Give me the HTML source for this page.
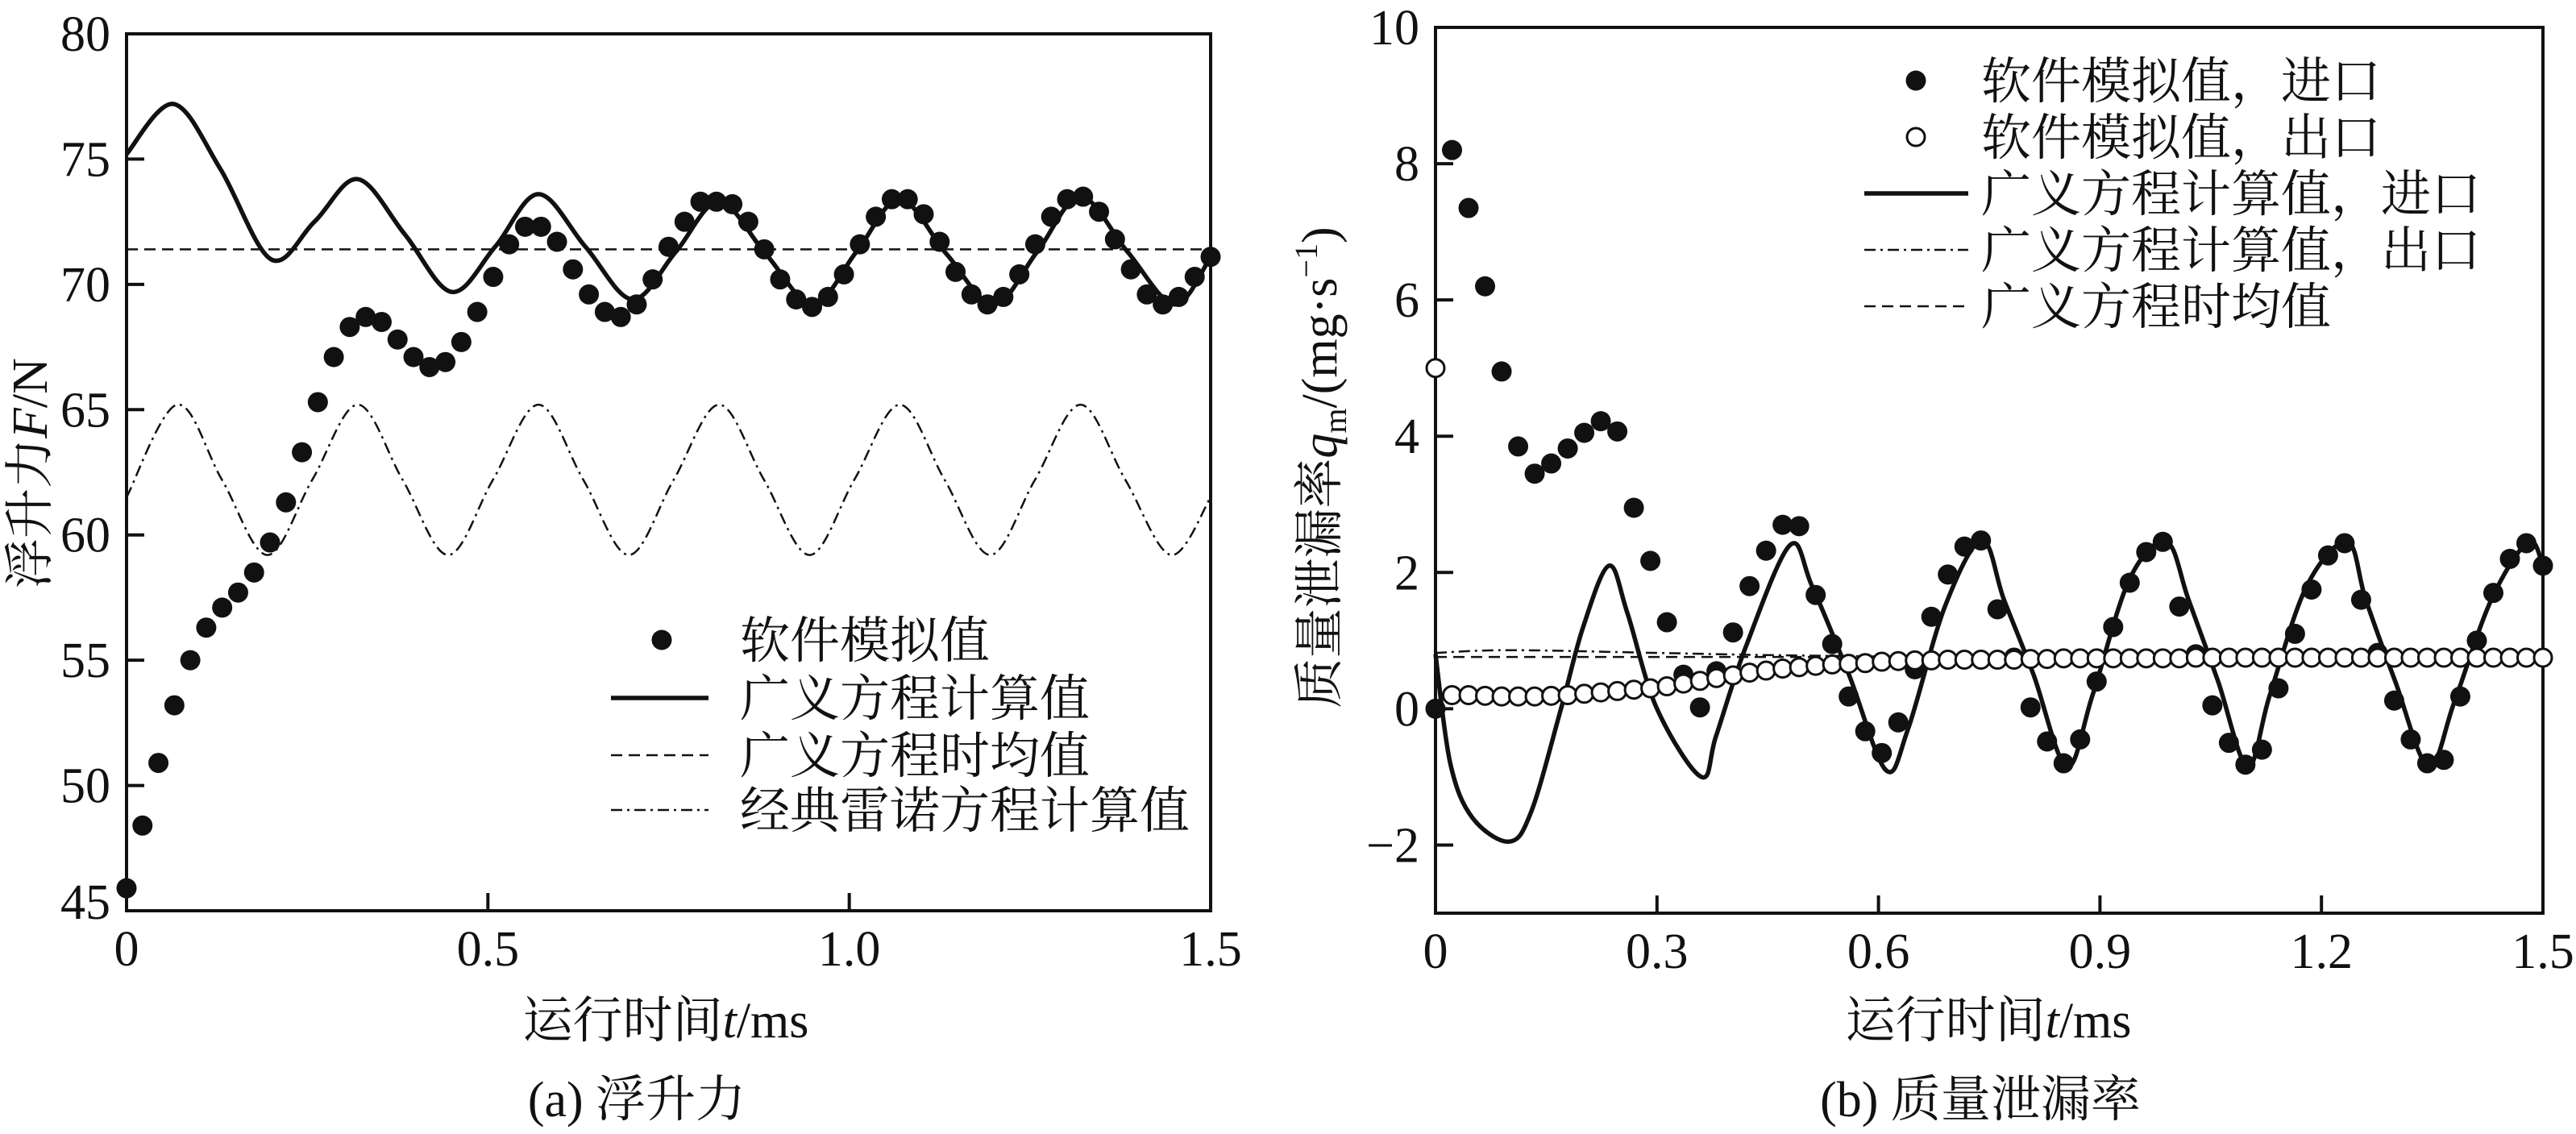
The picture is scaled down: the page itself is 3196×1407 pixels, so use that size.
<!DOCTYPE html>
<html><head><meta charset="utf-8"><style>
html,body{margin:0;padding:0;background:#fff}
svg{display:block}
text{font-family:"Liberation Serif","Noto Serif CJK SC",serif;fill:#111}
.cjk{font-family:"Liberation Serif","Noto Serif CJK SC",serif}
</style></head><body>
<svg id="fig" width="3196" height="1407" viewBox="0 0 3196 1407" xmlns="http://www.w3.org/2000/svg">
<rect width="3196" height="1407" fill="#fff"/>
<g id="pa"></g>
<g id="pb"></g>
<text transform="translate(58,587) rotate(-90)" text-anchor="middle" font-size="62">浮升力<tspan font-style="italic">F</tspan>/N</text>
<text x="826" y="1287" text-anchor="middle" font-size="62">运行时间<tspan font-style="italic">t</tspan>/ms</text>
<text x="790" y="1385" text-anchor="middle" font-size="62">(a) 浮升力</text>
<text transform="translate(1658,580) rotate(-90)" text-anchor="middle" font-size="62">质量泄漏率<tspan font-style="italic">q</tspan><tspan font-size="40" dy="12">m</tspan><tspan dy="-12">/(mg·s</tspan><tspan font-size="40" dy="-24">−1</tspan><tspan dy="24">)</tspan></text>
<text x="2467" y="1287" text-anchor="middle" font-size="62">运行时间<tspan font-style="italic">t</tspan>/ms</text>
<text x="2457" y="1385" text-anchor="middle" font-size="62">(b) 质量泄漏率</text>
</svg>
<script>
// ---------- chart (a) data ----------
const aSimValues=[45.9,48.4,50.9,53.2,55.0,56.3,57.1,57.7,58.5,59.7,61.3,63.3,65.3,67.1,68.3,68.7,68.5,67.8,67.1,66.7,66.9,67.7,68.9,70.3,71.6,72.3,72.3,71.7,70.6,69.6,68.9,68.7,69.2,70.2,71.5,72.5,73.3,73.3,73.2,72.5,71.4,70.2,69.4,69.1,69.5,70.4,71.6,72.7,73.4,73.4,72.8,71.7,70.5,69.6,69.2,69.5,70.4,71.6,72.7,73.4,73.5,72.9,71.8,70.6,69.6,69.2,69.5,70.3,71.1];
const aGenT=[0,0.065,0.13,0.2,0.26,0.32,0.385,0.45,0.51,0.57,0.635,0.7,0.76,0.82,0.885,0.95,1.01,1.07,1.135,1.2,1.26,1.32,1.385,1.45,1.5];
const aGenV=[75.2,77.2,74.6,71.0,72.5,74.2,72.0,69.7,71.5,73.6,71.5,69.4,71.3,73.3,71.2,69.2,71.3,73.4,71.2,69.2,71.3,73.5,71.3,69.2,71.1];
const aMean=71.4;
const aReyT=[0,0.07,0.132,0.195,0.257,0.32,0.382,0.445,0.507,0.57,0.632,0.695,0.757,0.82,0.882,0.945,1.007,1.07,1.132,1.195,1.257,1.32,1.382,1.445,1.5];
const aReyV=[61.5,65.2,62.2,59.2,62.2,65.2,62.2,59.2,62.2,65.2,62.2,59.2,62.2,65.2,62.2,59.2,62.2,65.2,62.2,59.2,62.2,65.2,62.2,59.2,61.5];
const aXTicks=[0,0.5,1.0,1.5], aXTickLabels=["0","0.5","1.0","1.5"];
const aYTicks=[45,50,55,60,65,70,75,80];
// ---------- chart (b) data ----------
const bInV=[0,8.2,7.35,6.2,4.95,3.85,3.45,3.6,3.82,4.05,4.22,4.07,2.95,2.17,1.27,0.5,0.02,0.55,1.12,1.8,2.32,2.7,2.68,1.67,0.95,0.18,-0.33,-0.65,-0.2,0.58,1.35,1.97,2.38,2.47,1.46,0.75,0.02,-0.48,-0.8,-0.45,0.4,1.2,1.85,2.3,2.45,1.5,0.8,0.05,-0.5,-0.82,-0.6,0.3,1.1,1.75,2.25,2.43,1.6,0.82,0.12,-0.45,-0.8,-0.75,0.18,1.0,1.7,2.2,2.43,2.1];
const bOutV=[5.0,0.2,0.2,0.19,0.18,0.18,0.18,0.19,0.2,0.22,0.24,0.26,0.28,0.3,0.33,0.37,0.41,0.45,0.49,0.53,0.56,0.59,0.61,0.63,0.65,0.66,0.67,0.69,0.7,0.71,0.71,0.72,0.72,0.72,0.72,0.72,0.73,0.73,0.74,0.74,0.74,0.74,0.74,0.74,0.74,0.74,0.75,0.75,0.75,0.75,0.75,0.75,0.75,0.75,0.75,0.75,0.75,0.75,0.75,0.75,0.75,0.75,0.75,0.75,0.75,0.75,0.75,0.75];
const bGenT=[0,0.02,0.05,0.1,0.13,0.17,0.2,0.235,0.26,0.3,0.36,0.38,0.42,0.48,0.51,0.56,0.61,0.64,0.69,0.74,0.77,0.81,0.855,0.89,0.94,0.99,1.02,1.06,1.1,1.13,1.18,1.235,1.26,1.3,1.345,1.38,1.43,1.48,1.5];
const bGenV=[0.8,-0.8,-1.6,-1.95,-1.5,0.0,1.2,2.1,1.4,0.0,-1.0,-0.4,0.9,2.4,1.8,0.5,-0.9,-0.3,1.5,2.47,1.6,0.5,-0.85,0.2,1.9,2.45,1.6,0.4,-0.85,0.2,1.8,2.45,1.6,0.4,-0.85,0.1,1.6,2.45,2.1];
const bOutGenT=[0,0.1,0.3,0.5,0.8,1.5];
const bOutGenV=[0.82,0.86,0.82,0.78,0.76,0.76];
const bMean=0.76;
const bXTicks=[0,0.3,0.6,0.9,1.2,1.5], bXTickLabels=["0","0.3","0.6","0.9","1.2","1.5"];
const bYTicks=[-2,0,2,4,6,8,10];

const NS="http://www.w3.org/2000/svg";
function mk(parent,tag,attrs){const e=document.createElementNS(NS,tag);for(const k in attrs)e.setAttribute(k,attrs[k]);parent.appendChild(e);return e;}
function smooth(pts){let d="M"+pts[0][0]+","+pts[0][1];for(let i=0;i<pts.length-1;i++){const p0=pts[Math.max(0,i-1)],p1=pts[i],p2=pts[i+1],p3=pts[Math.min(pts.length-1,i+2)];const c1x=p1[0]+(p2[0]-p0[0])/6,c1y=p1[1]+(p2[1]-p0[1])/6,c2x=p2[0]-(p3[0]-p1[0])/6,c2y=p2[1]-(p3[1]-p1[1])/6;d+=" C"+c1x.toFixed(1)+","+c1y.toFixed(1)+" "+c2x.toFixed(1)+","+c2y.toFixed(1)+" "+p2[0].toFixed(1)+","+p2[1].toFixed(1);}return d;}

function axes(g,L,R,T,B,sx,sy,xt,xl,yt,yl,ymin){
  const f=mk(g,'rect',{x:L,y:T,width:R-L,height:B-T,fill:'none',stroke:'#111','stroke-width':4});
  
  xt.forEach((v,i)=>{const x=sx(v);
    const t=mk(g,'line',{x1:x,y1:B,x2:x,y2:B-22,stroke:'#111','stroke-width':4});
    
    const l=mk(g,'text',{x:x,y:B+68,'text-anchor':'middle','font-size':62});l.textContent=xl[i];
    });
  yt.forEach((v,i)=>{const y=sy(v);
    const t=mk(g,'line',{x1:L,y1:y,x2:L+22,y2:y,stroke:'#111','stroke-width':4});
    
    const l=mk(g,'text',{x:L-20,y:(v===ymin? y+10 : y+21),'text-anchor':'end','font-size':62});l.textContent=yl[i];
    });
}

// ---------- draw (a) ----------
(function(){
  const g=document.getElementById('pa');
  const L=157,R=1502,T=42,B=1130;
  const sx=t=>L+(t/1.5)*(R-L), sy=v=>B-(v-45)/35*(B-T);
  axes(g,L,R,T,B,sx,sy,aXTicks,aXTickLabels,aYTicks,aYTicks.map(String),45);
  const rey=mk(g,'path',{d:smooth(aReyT.map((t,i)=>[sx(t),sy(aReyV[i])])),fill:'none',stroke:'#111','stroke-width':2.5,'stroke-dasharray':'14 6 3 6'});
  
  const mean=mk(g,'line',{x1:L,y1:sy(aMean),x2:R,y2:sy(aMean),stroke:'#111','stroke-width':2.5,'stroke-dasharray':'14 8'});
  
  const gen=mk(g,'path',{d:smooth(aGenT.map((t,i)=>[sx(t),sy(aGenV[i])])),fill:'none',stroke:'#111','stroke-width':5.5});
  
  const n=aSimValues.length-1;
  aSimValues.forEach((v,i)=>{const c=mk(g,'circle',{cx:sx(1.5*i/n),cy:sy(v),r:12.5,fill:'#111'});
    });
  // legend
  const lg=mk(g,'g',{});
  const rows=[794,866,937,1005], labels=["软件模拟值","广义方程计算值","广义方程时均值","经典雷诺方程计算值"];
  mk(lg,'circle',{cx:821,cy:rows[0],r:12.5,fill:'#111'});
  mk(lg,'line',{x1:758,y1:rows[1],x2:879,y2:rows[1],stroke:'#111','stroke-width':5.5});
  mk(lg,'line',{x1:758,y1:rows[2],x2:879,y2:rows[2],stroke:'#111','stroke-width':2.5,'stroke-dasharray':'14 8'});
  mk(lg,'line',{x1:758,y1:rows[3],x2:879,y2:rows[3],stroke:'#111','stroke-width':2.5,'stroke-dasharray':'14 6 3 6'});
  labels.forEach((s,i)=>{const t=mk(lg,'text',{x:918,y:rows[i]+22,'font-size':62});t.textContent=s;
    });
})();

// ---------- draw (b) ----------
(function(){
  const g=document.getElementById('pb');
  const L=1781,R=3155,T=34,B=1133;
  const sx=t=>L+(t/1.5)*(R-L), sy=v=>B-(v+3)/13*(B-T);
  axes(g,L,R,T,B,sx,sy,bXTicks,bXTickLabels,bYTicks,bYTicks.map(v=>v<0?"−"+(-v):String(v)),-99);
  const mean=mk(g,'line',{x1:L,y1:sy(bMean),x2:R,y2:sy(bMean),stroke:'#111','stroke-width':2.5,'stroke-dasharray':'14 8'});
  
  const og=mk(g,'path',{d:smooth(bOutGenT.map((t,i)=>[sx(t),sy(bOutGenV[i])])),fill:'none',stroke:'#111','stroke-width':2.5,'stroke-dasharray':'14 6 3 6'});
  
  const gen=mk(g,'path',{d:smooth(bGenT.map((t,i)=>[sx(t),sy(bGenV[i])])),fill:'none',stroke:'#111','stroke-width':5.5});
  
  const n1=bInV.length-1;
  bInV.forEach((v,i)=>{const c=mk(g,'circle',{cx:sx(1.5*i/n1),cy:sy(v),r:12.5,fill:'#111'});
    });
  const n2=bOutV.length-1;
  bOutV.forEach((v,i)=>{const c=mk(g,'circle',{cx:sx(1.5*i/n2),cy:sy(v),r:11,fill:'#fff',stroke:'#111','stroke-width':3});
    });
  const lg=mk(g,'g',{});
  const rows=[100,170,240,310,380], labels=["软件模拟值，进口","软件模拟值，出口","广义方程计算值，进口","广义方程计算值，出口","广义方程时均值"];
  mk(lg,'circle',{cx:2377,cy:rows[0],r:12.5,fill:'#111'});
  mk(lg,'circle',{cx:2377,cy:rows[1],r:11,fill:'#fff',stroke:'#111','stroke-width':3});
  mk(lg,'line',{x1:2313,y1:rows[2],x2:2442,y2:rows[2],stroke:'#111','stroke-width':5.5});
  mk(lg,'line',{x1:2313,y1:rows[3],x2:2442,y2:rows[3],stroke:'#111','stroke-width':2.5,'stroke-dasharray':'14 6 3 6'});
  mk(lg,'line',{x1:2313,y1:rows[4],x2:2442,y2:rows[4],stroke:'#111','stroke-width':2.5,'stroke-dasharray':'14 8'});
  labels.forEach((s,i)=>{const t=mk(lg,'text',{x:2458,y:rows[i]+22,'font-size':62});t.textContent=s;
    });
})();
</script>
</body></html>
